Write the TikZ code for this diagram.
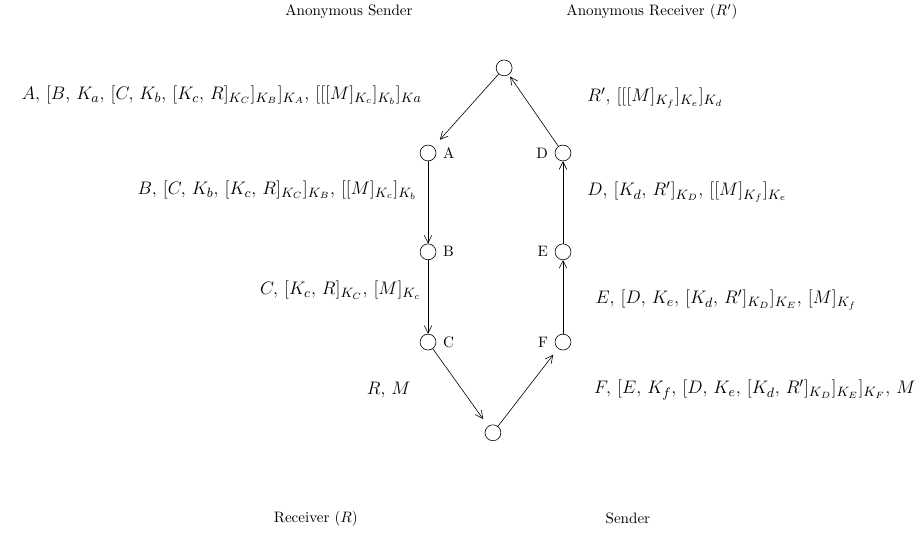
\documentclass[tikz,border=0pt]{standalone}
\usepackage{amsmath,amssymb}
\usepackage{tikz}
\usetikzlibrary{positioning,arrows.meta}

\tikzset{
    hop/.style={draw, circle, minimum size=0.37cm, inner sep=0pt},
    msg/.style={inner sep=0pt, font=\fontsize{12.6}{15}\selectfont},
    link/.style={-{Straight Barb[length=5pt,width=5pt]}}
}

\begin{document}
\begin{tikzpicture}
    \useasboundingbox (0,0) rectangle (21.5,12.47);
    % Hops
    \node [hop] (top) at (11.73, 10.89) {};
    \node [hop] (A) at (9.96, 8.91) {};
    \node [hop] (B) at (9.96, 6.61) {};
    \node [hop] (C) at (9.96, 4.51) {};
    \node [hop] (D) at (13.10, 8.91) {};
    \node [hop] (E) at (13.10, 6.61) {};
    \node [hop] (F) at (13.10, 4.51) {};
    \node [hop] (bot) at (11.47, 2.40) {};
    \node (nA) [right=1pt of A] {A};
    \node (nB) [right=1pt of B] {B};
    \node (nC) [right=1pt of C] {C};
    \node (nD) [left=1pt of D] {D};
    \node (nE) [left=1pt of E] {E};
    \node (nF) [left=1pt of F] {F};
    % Parties
    \node (asnd) at (8.12, 12.19) {Anonymous Sender};
    \node (arcv) at (15.17, 12.19) {Anonymous Receiver $(R')$};
    \node (rcv) at (7.35, 0.40) {Receiver $(R)$};
    \node (snd) at (14.61, 0.40) {Sender};
    % Links
    \draw [link, shorten >=0.22cm] (top) -- (A);
    \draw [link] (A) -- (B);
    \draw [link] (B) -- (C);
    \draw [link, shorten >=0.2cm] (C) -- (bot);
    \draw [link, shorten >=0.18cm] (bot) -- (F);
    \draw [link] (F) -- (E);
    \draw [link] (E) -- (D);
    \draw [link, shorten >=0.05cm] (D) -- (top);
    % Messages
    \node [msg, anchor=east] (mA) at (9.82, 10.26) {$A,\,[B,\,K_a,\,[C,\,K_b,\,[K_c,\,R]_{K_C}]_{K_B}]_{K_A},\,[[[M]_{K_c}]_{K_b}]_{Ka}$};
    \node [msg, anchor=east] (mB) at (9.70, 8.05) {$B,\,[C,\,K_b,\,[K_c,\,R]_{K_C}]_{K_B},\,[[M]_{K_c}]_{K_b}$};
    \node [msg, anchor=east] (mC) at (9.80, 5.72) {$C,\,[K_c,\,R]_{K_C},\,[M]_{K_c}$};
    \node [msg, anchor=east] (mR) at (9.56, 3.40) {$R,\,M$};
    \node [msg, anchor=west] (mD) at (13.66, 10.19) {$R',\,[[[M]_{K_f}]_{K_e}]_{K_d}$};
    \node [msg, anchor=west] (mE) at (13.66, 8.00) {$D,\,[K_d,\,R']_{K_D},\,[[M]_{K_f}]_{K_e}$};
    \node [msg, anchor=west] (mF) at (13.85, 5.49) {$E,\,[D,\,K_e,\,[K_d,\,R']_{K_D}]_{K_E},\,[M]_{K_f}$};
    \node [msg, anchor=west] (mS) at (13.82, 3.40) {$F,\,[E,\,K_f,\,[D,\,K_e,\,[K_d,\,R']_{K_D}]_{K_E}]_{K_F},\,M$};
\end{tikzpicture}
\end{document}
